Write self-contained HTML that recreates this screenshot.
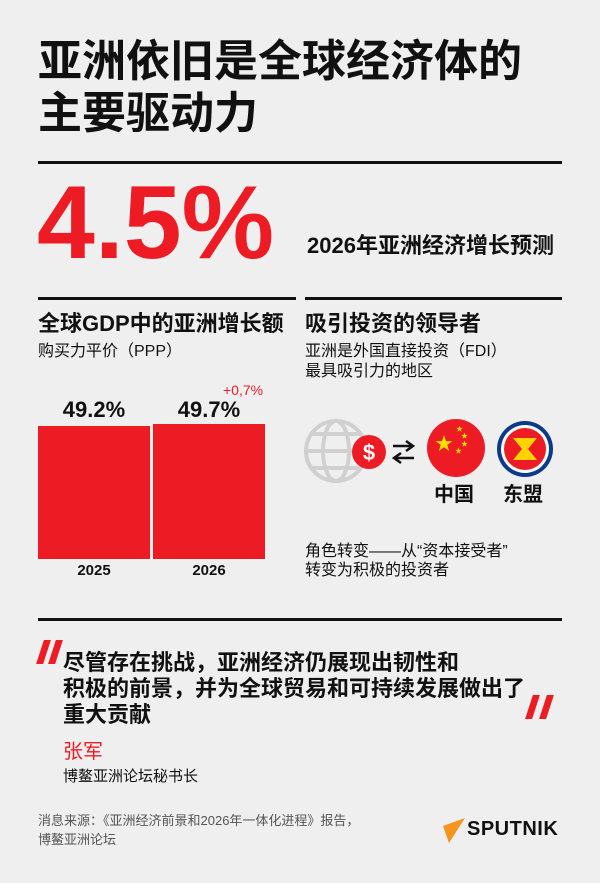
<!DOCTYPE html>
<html><head><meta charset="utf-8"><style>
*{margin:0;padding:0}
body{width:600px;height:883px;background:#efefef;position:relative;overflow:hidden;font-family:"Liberation Sans","Noto Sans CJK SC",sans-serif;color:#111}
.a{position:absolute;white-space:nowrap}
.rule{position:absolute;height:3px;background:#111}
.b{font-weight:bold}
.q{position:absolute;width:7px;height:24px;background:#ed1c24;transform:skewX(-18deg)}
</style></head><body>
<div class="a b" style="left:38px;top:36px;font-size:44px;line-height:52px">亚洲依旧是全球经济体的<br>主要驱动力</div>
<div class="rule" style="left:38px;top:161px;width:524px"></div>
<div class="a b" style="left:37px;top:170px;font-size:104px;line-height:106px;color:#ed1c24">4.5%</div>
<div class="a b" style="left:307px;top:232px;font-size:22px;line-height:28px">2026年亚洲经济增长预测</div>
<div class="rule" style="left:38px;top:297px;width:258px"></div>
<div class="rule" style="left:305px;top:297px;width:257px"></div>
<div class="a b" style="left:38px;top:310px;font-size:22px;line-height:28px">全球GDP中的亚洲增长额</div>
<div class="a" style="left:38px;top:342px;font-size:16px;line-height:20px">购买力平价（PPP）</div>
<div class="a b" style="left:305px;top:310px;font-size:22px;line-height:28px">吸引投资的领导者</div>
<div class="a" style="left:305px;top:342px;font-size:16px;line-height:20px">亚洲是外国直接投资（FDI）<br>最具吸引力的地区</div>
<div class="a" style="left:223px;top:382px;font-size:14px;color:#ed1c24">+0,7%</div>
<div class="a b" style="left:38px;top:397px;width:112px;text-align:center;font-size:22px">49.2%</div>
<div class="a b" style="left:153px;top:397px;width:112px;text-align:center;font-size:22px">49.7%</div>
<div style="position:absolute;left:38px;top:426px;width:112px;height:133px;background:#ed1c24"></div>
<div style="position:absolute;left:153px;top:424px;width:112px;height:135px;background:#ed1c24"></div>
<div class="a b" style="left:38px;top:562px;width:112px;text-align:center;font-size:15px">2025</div>
<div class="a b" style="left:153px;top:562px;width:112px;text-align:center;font-size:15px">2026</div>
<svg style="position:absolute;left:300px;top:410px" width="270" height="80">
<g fill="none" stroke="#d0d0d0" stroke-width="4">
<circle cx="36" cy="41" r="30"/><ellipse cx="36" cy="41" rx="13" ry="30"/>
<line x1="6" y1="41" x2="66" y2="41"/><path d="M12 24H60M12 58H60"/></g>
<circle cx="69" cy="42" r="17" fill="#ed1c24"/>
<text x="69" y="50" font-size="22" font-weight="bold" fill="#fff" text-anchor="middle" font-family="Liberation Sans">$</text>
<path d="M93 36H112M106 31L113 36L106 41M95 48H114M101 43L94 48L101 53" stroke="#111" stroke-width="2.5" fill="none"/>
<circle cx="156" cy="38" r="29" fill="#ed1c24"/>
<text x="144" y="40" font-size="18" fill="#ffde00" text-anchor="middle">★</text>
<text x="156" y="21" font-size="7" fill="#ffde00">★</text><text x="161" y="28" font-size="7" fill="#ffde00">★</text>
<text x="161" y="36" font-size="7" fill="#ffde00">★</text><text x="155" y="43" font-size="7" fill="#ffde00">★</text>
<circle cx="225" cy="39" r="28" fill="#0b3a8c"/><circle cx="225" cy="39" r="24" fill="#fff"/><circle cx="225" cy="39" r="21" fill="#ed1c24"/>
<path d="M213 28H237L228 39L237 50H213L222 39Z" fill="#ffd200"/>
</svg>
<div class="a b" style="left:434px;top:482px;font-size:20px;line-height:26px">中国</div>
<div class="a b" style="left:503px;top:482px;font-size:20px;line-height:26px">东盟</div>
<div class="a" style="left:305px;top:542px;font-size:16px;line-height:19px">角色转变——从“资本接受者”<br>转变为积极的投资者</div>
<div class="rule" style="left:38px;top:618px;width:524px"></div>
<div class="q" style="left:40px;top:640px"></div><div class="q" style="left:52px;top:640px"></div>
<div class="q" style="left:529px;top:695px"></div><div class="q" style="left:543px;top:695px"></div>
<div class="a b" style="left:63px;top:650px;font-size:22px;line-height:26px">尽管存在挑战，亚洲经济仍展现出韧性和<br>积极的前景，并为全球贸易和可持续发展做出了<br>重大贡献</div>
<div class="a" style="left:63px;top:735px;font-size:20px;color:#ed1c24">张军</div>
<div class="a" style="left:63px;top:765px;font-size:15px">博鳌亚洲论坛秘书长</div>
<div class="a" style="left:38px;top:811px;font-size:13px;line-height:19px;color:#555">消息来源：《亚洲经济前景和2026年一体化进程》报告，<br>博鳌亚洲论坛</div>
<svg style="position:absolute;left:443px;top:818px" width="24" height="26"><path d="M0 8L22 0L6 25Z" fill="#f7941d"/></svg>
<div class="a b" style="left:467px;top:818px;font-size:20px;letter-spacing:0.5px">SPUTNIK</div>
</body></html>
